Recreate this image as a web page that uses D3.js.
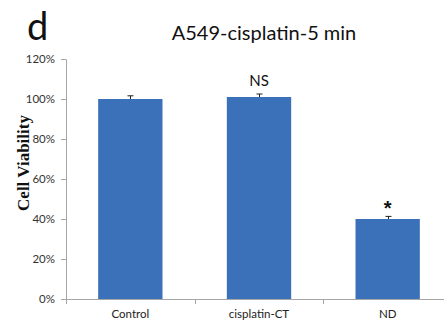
<!DOCTYPE html>
<html><head><meta charset="utf-8">
<script src="https://cdn.jsdelivr.net/npm/d3@7"></script>
<style>body{margin:0;background:#fff}svg{display:block}</style>
</head><body>
<svg id="c" width="444" height="332"></svg>
<script>
const categories = ["Control", "cisplatin-CT", "ND"];
const values = [100, 101, 40];
const errors = [1.6, 1.5, 1.3];
const annotations = ["", "NS", "*"];
const yTicks = [0, 20, 40, 60, 80, 100, 120];

(function () {
const svg = d3.select("#c");
const mLeft = 66, mRight = 452, mTop = 59, mBottom = 299;
const x = d3.scaleBand().domain(categories).range([mLeft, mRight]).paddingInner(0.5).paddingOuter(0.25);
const y = d3.scaleLinear().domain([0, 120]).range([mBottom, mTop]);
const axisColor = "#a6a6a6";
const sans = "Lato, 'Open Sans', sans-serif";

// y axis
const ya = svg.append("g").attr("transform", `translate(${mLeft},0)`)
  .call(d3.axisLeft(y).tickValues(yTicks).tickSize(5).tickSizeOuter(0).tickFormat(d => d + "%"));
ya.select(".domain").attr("stroke", axisColor);
ya.selectAll(".tick line").attr("stroke", axisColor);
ya.selectAll(".tick text").attr("fill", "#333").attr("font-family", sans).attr("font-size", 11.5).attr("x", -11);

// bars
const color = "#3a71b8";
svg.selectAll("rect.bar").data(categories).join("rect")
  .attr("class", "bar")
  .attr("x", d => x(d)).attr("width", x.bandwidth())
  .attr("y", (d, i) => y(values[i])).attr("height", (d, i) => y(0) - y(values[i]))
  .attr("fill", color);

// error bars
categories.forEach((c, i) => {
  const cx = Math.round(x(c) + x.bandwidth() / 2) + 0.5;
  const yt = y(values[i] + errors[i]);
  svg.append("line").attr("x1", cx).attr("x2", cx).attr("y1", y(values[i])).attr("y2", yt).attr("stroke", "#222");
  svg.append("line").attr("x1", cx - 3).attr("x2", cx + 3).attr("y1", yt).attr("y2", yt).attr("stroke", "#222");
});

// x axis
const step = x.step();
svg.append("line").attr("x1", mLeft).attr("x2", mRight).attr("y1", mBottom + 0.5).attr("y2", mBottom + 0.5).attr("stroke", axisColor);
svg.append("line").attr("x1", mLeft + 0.5).attr("x2", mLeft + 0.5).attr("y1", mBottom).attr("y2", mBottom + 5).attr("stroke", axisColor);
categories.forEach((c, i) => {
  const bx = Math.round(mLeft + step * (i + 1)) + 0.5;
  svg.append("line").attr("x1", bx).attr("x2", bx).attr("y1", mBottom).attr("y2", mBottom + 5).attr("stroke", axisColor);
  svg.append("text").attr("x", x(c) + x.bandwidth() / 2).attr("y", 318).attr("text-anchor", "middle")
    .attr("font-family", sans).attr("font-size", 11.5).attr("fill", "#222").text(c);
});

// annotations
categories.forEach((c, i) => {
  if (!annotations[i]) return;
  const cx = x(c) + x.bandwidth() / 2;
  if (annotations[i] === "*") {
    svg.append("text").attr("x", cx).attr("y", 215).attr("text-anchor", "middle")
      .attr("font-family", "'Liberation Sans', sans-serif").attr("font-weight", "bold").attr("font-size", 20).attr("fill", "#111")
      .text("*");
  } else {
    svg.append("text").attr("x", cx).attr("y", 86).attr("text-anchor", "middle")
      .attr("font-family", sans).attr("font-size", 15).attr("fill", "#111").text(annotations[i]);
  }
});

// y label
svg.append("text").attr("transform", "translate(29,163) rotate(-90)").attr("text-anchor", "middle")
  .attr("font-family", "'Liberation Serif', 'DejaVu Serif', serif").attr("font-weight", "bold").attr("font-size", 17).attr("fill", "#111")
  .text("Cell Viability");

// title
svg.append("text").attr("x", 264).attr("y", 40).attr("text-anchor", "middle")
  .attr("font-family", sans).attr("font-size", 20).attr("fill", "#111").text("A549-cisplatin-5 min");

// panel letter
svg.append("text").attr("x", 27).attr("y", 40).attr("font-family", sans).attr("font-size", 38).attr("fill", "#111").text("d");
})();
</script>
</body></html>
